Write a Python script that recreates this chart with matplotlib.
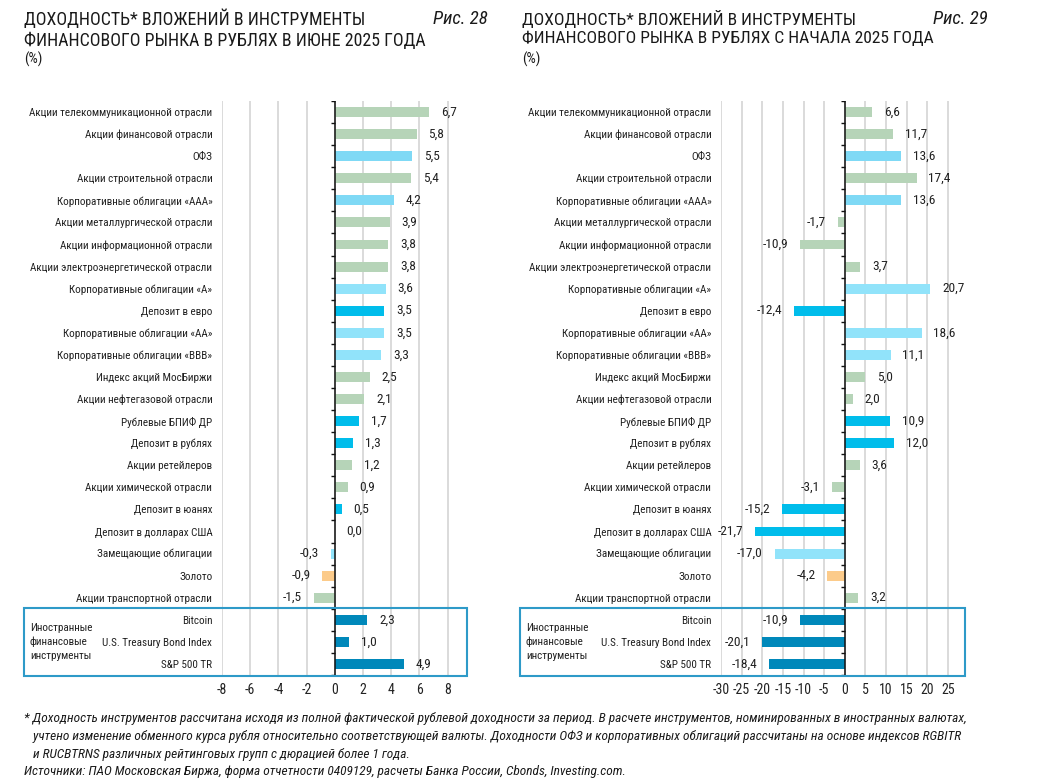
import matplotlib
matplotlib.use('Agg')
import matplotlib.pyplot as plt
from matplotlib.patches import Rectangle
import numpy as np

plt.rcParams['font.family'] = ['Roboto Condensed', 'DejaVu Sans Condensed', 'Roboto', 'DejaVu Sans']
plt.rcParams['axes.unicode_minus'] = False

# categories (same order in both charts)
cats = [
    'Акции телекоммуникационной отрасли', 'Акции финансовой отрасли', 'ОФЗ',
    'Акции строительной отрасли', 'Корпоративные облигации «ААА»',
    'Акции металлургической отрасли', 'Акции информационной отрасли',
    'Акции электроэнергетической отрасли', 'Корпоративные облигации «А»',
    'Депозит в евро', 'Корпоративные облигации «АА»', 'Корпоративные облигации «ВВВ»',
    'Индекс акций МосБиржи', 'Акции нефтегазовой отрасли', 'Рублевые БПИФ ДР',
    'Депозит в рублях', 'Акции ретейлеров', 'Акции химической отрасли',
    'Депозит в юанях', 'Депозит в долларах США', 'Замещающие облигации', 'Золото',
    'Акции транспортной отрасли', 'Bitcoin', 'U.S. Treasury Bond Index', 'S&P 500 TR',
]
# group of each bar -> colour
groups = ['eq', 'eq', 'ofz', 'eq', 'ofz', 'eq', 'eq', 'eq', 'bond', 'dep', 'bond', 'bond',
          'eq', 'eq', 'dep', 'dep', 'eq', 'eq', 'dep', 'dep', 'bond', 'gold', 'eq',
          'fx', 'fx', 'fx']

june = [6.7, 5.8, 5.5, 5.4, 4.2, 3.9, 3.8, 3.8, 3.6, 3.5, 3.5, 3.3, 2.5, 2.1, 1.7, 1.3,
        1.2, 0.9, 0.5, 0.0, -0.3, -0.9, -1.5, 2.3, 1.0, 4.9]
ytd = [6.6, 11.7, 13.6, 17.4, 13.6, -1.7, -10.9, 3.7, 20.7, -12.4, 18.6, 11.1, 5.0, 2.0,
       10.9, 12.0, 3.6, -3.1, -15.2, -21.7, -17.0, -4.2, 3.2, -10.9, -20.1, -18.4]

june_ticks = [-8, -6, -4, -2, 0, 2, 4, 6, 8]
ytd_ticks = [-30, -25, -20, -15, -10, -5, 0, 5, 10, 15, 20, 25]

colors = {'eq': '#b6d4b8', 'ofz': '#7fd9f5', 'bond': '#91e3fa', 'dep': '#00bdeb',
          'fx': '#0088ba', 'gold': '#fccb8a'}

fig = plt.figure(figsize=(10.4, 7.82), dpi=100)

H = 782.0
W = 1040.0
ax_bottom = 1 - 675 / H
ax_height = 574 / H


def draw(ax, vals, ticks, xlim, tick_len):
    y = np.arange(len(cats))
    ax.barh(y, vals, height=0.45, color=[colors[g] for g in groups], zorder=2)
    ax.set_xlim(*xlim)
    ax.set_ylim(len(cats) - 0.5, -0.5)
    ax.set_xticks(ticks)
    ax.set_xticklabels([str(t) for t in ticks], fontsize=10, color='#222222')
    ax.set_yticks(y)
    ax.set_yticklabels(cats, fontsize=8.0, color='#222222')
    ax.tick_params(length=0)
    ax.tick_params(axis='y', pad=7)
    ax.tick_params(axis='x', pad=6)
    for s in ax.spines.values():
        s.set_visible(False)
    for t in ticks:
        ax.axvline(t, color='#d4d4d4', lw=1.2, zorder=0)
    ax.axvline(0, color='#111111', lw=1.1, zorder=3)
    ax.hlines(np.arange(-0.5, len(cats)), -tick_len, 0, color='#111111', lw=1, zorder=3)
    for yi, v in zip(y, vals):
        lab = f'{v:.1f}'.replace('.', ',')
        if v >= 0:
            ax.annotate(lab, (v, yi), xytext=(8.5, 0), textcoords='offset points',
                        ha='left', va='center', fontsize=9.6, color='#222222')
        else:
            ax.annotate(lab, (v, yi), xytext=(-8.5, 0), textcoords='offset points',
                        ha='right', va='center', fontsize=9.6, color='#222222')


ax1 = fig.add_axes([222 / W, ax_bottom, 244 / W, ax_height])
draw(ax1, june, june_ticks, (-8, 9.3), 0.28)
ax2 = fig.add_axes([721 / W, ax_bottom, 243.5 / W, ax_height])
draw(ax2, ytd, ytd_ticks, (-30, 29), 1.0)

# boxes around foreign instruments
for x0, x1 in [(24, 467), (520, 965)]:
    fig.patches.append(Rectangle((x0 / W, 1 - 676 / H), (x1 - x0) / W, 68 / H,
                                 transform=fig.transFigure, fill=False,
                                 edgecolor='#2e9ac8', lw=1.5, zorder=5))
    fig.text((x0 + 6) / W, 1 - 642 / H, 'Иностранные\nфинансовые\nинструменты',
             ha='left', va='center', fontsize=8.0, color='#222222', linespacing=1.45)

# titles
titles = [('ДОХОДНОСТЬ* ВЛОЖЕНИЙ В ИНСТРУМЕНТЫ\nФИНАНСОВОГО РЫНКА В РУБЛЯХ В ИЮНЕ 2025 ГОДА',
           'Рис. 28', 24, 488, 12.9),
          ('ДОХОДНОСТЬ* ВЛОЖЕНИЙ В ИНСТРУМЕНТЫ\nФИНАНСОВОГО РЫНКА В РУБЛЯХ С НАЧАЛА 2025 ГОДА',
           'Рис. 29', 522, 988, 12.6)]
for t, fig_no, x0, xr, fs in titles:
    fig.text(x0 / W, 1 - 10 / H, t, ha='left', va='top', fontsize=fs,
             color='#1a1a1a', linespacing=1.2)
    fig.text(xr / W, 1 - 10 / H, fig_no, ha='right', va='top', fontsize=13.5,
             style='italic', color='#1a1a1a')
    fig.text(x0 / W, 1 - 52 / H, '(%)', ha='left', va='top', fontsize=10.5, color='#1a1a1a')

note = ('* Доходность инструментов рассчитана исходя из полной фактической рублевой доходности за период. '
        'В расчете инструментов, номинированных в иностранных валютах,\n'
        '   учтено изменение обменного курса рубля относительно соответствующей валюты. '
        'Доходности ОФЗ и корпоративных облигаций рассчитаны на основе индексов RGBITR\n'
        '   и RUCBTRNS различных рейтинговых групп с дюрацией более 1 года.\n'
        'Источники: ПАО Московская Биржа, форма отчетности 0409129, расчеты Банка России, Cbonds, Investing.com.')
fig.text(24 / W, 1 - 712 / H, note, ha='left', va='top', fontsize=9.6, style='italic',
         color='#1a1a1a', linespacing=1.48)

fig.savefig('out.png', dpi=100)
